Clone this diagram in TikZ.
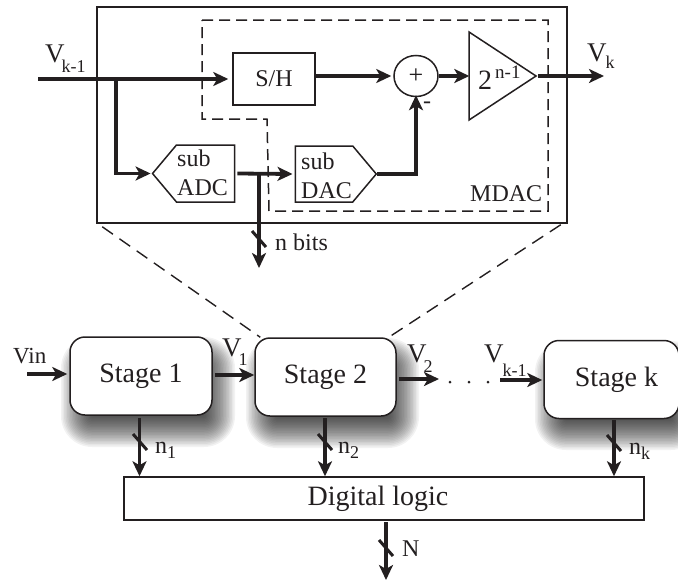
\documentclass[tikz,border=0pt]{standalone}
\usepackage{fontspec}
\setmainfont{Liberation Serif}
\usetikzlibrary{arrows.meta,calc,shapes.geometric,shapes.symbols}
\definecolor{ink}{HTML}{231F20}
\newcommand{\fs}[1]{\fontsize{#1}{#1}\selectfont}
\newcommand{\low}[3]{\raisebox{-#1pt}{\fs{#2}#3}}
\tikzset{
  wire/.style={line width=3.8pt,draw=ink,-{Stealth[length=15pt,width=14pt,inset=4pt]}},
  tick/.style={line width=3pt,draw=ink},
  thinbox/.style={draw=ink,line width=1.5pt,inner sep=0pt},
  frame/.style={thinbox,rectangle},
  stagebox/.style={thinbox,fill=white,rounded corners=15pt,minimum height=78pt,text=ink,font=\fs{28}},
  dashedline/.style={draw=ink,line width=1.5pt,dash pattern=on 11pt off 6pt},
  zoomline/.style={draw=ink,line width=1.4pt,dash pattern=on 13pt off 8pt},
  txt/.style={text=ink,inner sep=0pt,anchor=base west,font=\fs{24}},
}
\newcommand{\softshadow}[4]{%
  \foreach \i in {0,...,21}{
    \pgfmathsetmacro{\d}{16-32*\i/21}
    \pgfmathsetmacro{\r}{max(2,15+\d)}
    \fill[black,opacity=0.05,rounded corners=\r pt]
      ({#1+7-\d},{#2+16-\d}) rectangle ({#3+7+\d},{#4+16+\d});
  }}
\begin{document}
\begin{tikzpicture}[x=1pt,y=-1pt]
\useasboundingbox (0,0) rectangle (678,581);
% shadows
\softshadow{70}{337}{212}{415}
\softshadow{255}{338}{396}{416}
\softshadow{544}{341}{679}{418}
% top block
\node[frame,minimum width=470pt,minimum height=216pt] (outer) at (332,115) {};
\draw[dashedline] (202,20) -- (548,20) -- (548,211) -- (269,211) -- (267,119) -- (202,119) -- cycle;
\node[frame,minimum width=82pt,minimum height=52pt,text=ink,font=\fs{24}] (sh) at (274,79) {S/H};
\node[thinbox,signal,signal to=west,signal pointer angle=100,minimum width=82pt,minimum height=57pt] (adc) at (205.5,173.5) {};
\node[thinbox,signal,signal to=east,signal pointer angle=100,minimum width=81pt,minimum height=56pt] (dac) at (324,174) {};
\node[txt] (adct1) at (177,166) {sub};
\node[txt] (adct2) at (177,195) {ADC};
\node[txt] (dact1) at (301,169) {sub};
\node[txt] (dact2) at (301,198) {DAC};
\node[thinbox,ellipse,minimum width=44pt,minimum height=41pt,text=ink,font=\fs{26}] (sum) at (416,76) {+};
\node[thinbox,isosceles triangle,isosceles triangle stretches,shape border rotate=0,minimum width=88pt,minimum height=67pt,anchor=apex] (amp) at (538,76) {};
\node[txt,font=\fs{28}] (gain) at (478,89) {2};
\node[txt,font=\fs{19}] (gainexp) at (495,78) {n-1};
\node[txt] (minus) at (423,108) {-};
\node[txt] (mdac) at (470,201) {MDAC};
\node[txt,font=\fs{27}] (vkm) at (45,62) {V\kern-3pt\low{10}{18}{k-1}};
\node[txt,font=\fs{27}] (vk) at (587,61) {V\kern-1pt\low{7}{18}{k}};
\node[txt] (nbits) at (275,250) {n bits};
\coordinate (vkin) at (38,79);
\coordinate (branch) at (116,79);
\coordinate (tap) at (259,172);
\coordinate (nout) at (259,268);
\coordinate (vkout) at (604,76);
\draw[wire] (vkin) -- ([xshift=-4pt]sh.west);
\draw[wire] (branch) |- ([xshift=-1pt]adc.west);
\draw[wire] ([xshift=2pt]adc.east) -- ([xshift=-2pt]dac.west);
\draw[wire] (tap) -- (nout);
\draw[wire] (sh.east |- sum.west) -- ([xshift=-2pt]sum.west);
\draw[wire] (sum.east) -- ([xshift=1pt]amp.lower side);
\draw[wire] (amp.apex) -- (vkout);
\draw[wire] (dac.east) -| ([yshift=2pt]sum.south);
% lower block
\node[stagebox,minimum width=142pt] (st1) at (141,376) {Stage 1};
\node[stagebox,minimum width=141pt] (st2) at (325.5,377) {Stage 2};
\node[stagebox,minimum width=135pt] (stk) at (611.5,379.5) {\hspace*{10pt}Stage k};
\node[frame,fill=white,minimum width=520pt,minimum height=43pt,text=ink,font=\fs{28}] (logic) at (384,498.5) {Digital logic\hspace*{12pt}};
\draw[zoomline] ($(outer.south west)+(6,3)$) -- ($(st2.north west)+(6,0)$);
\draw[zoomline] ($(outer.south east)+(-7,1)$) -- ($(st2.north east)+(-8,0)$);
\coordinate (vinstart) at (27,374);
\coordinate (v2end) at (439,379);
\coordinate (vkmstart) at (500,380);
\coordinate (n1a) at (139.5,418);
\coordinate (n2a) at (325,418);
\coordinate (nka) at (614,420);
\coordinate (na) at (386,522);
\coordinate (nb) at (386,580);
\draw[wire] (vinstart) -- ([xshift=-2pt]st1.west |- vinstart);
\draw[wire] ([xshift=2pt]st1.east |- 0,375) -- (st2.west |- 0,375);
\draw[wire] ([xshift=2pt]st2.east |- v2end) -- (v2end);
\draw[wire] (vkmstart) -- ([xshift=-1pt]stk.west |- vkmstart);
\draw[wire] (n1a) -- (n1a |- logic.north);
\draw[wire] (n2a) -- (n2a |- logic.north);
\draw[wire] (nka) -- (nka |- logic.north);
\draw[wire] (na) -- (nb);
\foreach \x/\y in {259/239,140/442,325/442,614/443,386/548}{
  \draw[tick] ($(\x,\y)+(-7,-8)$) -- ($(\x,\y)+(7,8)$);
}
\foreach \x in {450,469,488}{ \fill[ink] (\x,382) circle (1.5pt); }
\node[txt,font=\fs{23}] (vin) at (13,363) {Vin};
\node[txt,font=\fs{27}] (v1) at (222,356) {V\kern-3pt\low{9}{18}{1}};
\node[txt,font=\fs{27}] (v2) at (407,362) {V\kern-3pt\low{10}{18}{2}};
\node[txt,font=\fs{27}] (vkb) at (484,362) {V\kern-1pt\low{14}{18}{k-1}};
\node[txt] (n1) at (155,453) {n\low{5}{18}{1}};
\node[txt] (n2) at (338,453) {n\low{5}{18}{2}};
\node[txt] (nk) at (629,454) {n\low{5}{18}{k}};
\node[txt] (nN) at (402,556) {N};
\end{tikzpicture}
\end{document}
